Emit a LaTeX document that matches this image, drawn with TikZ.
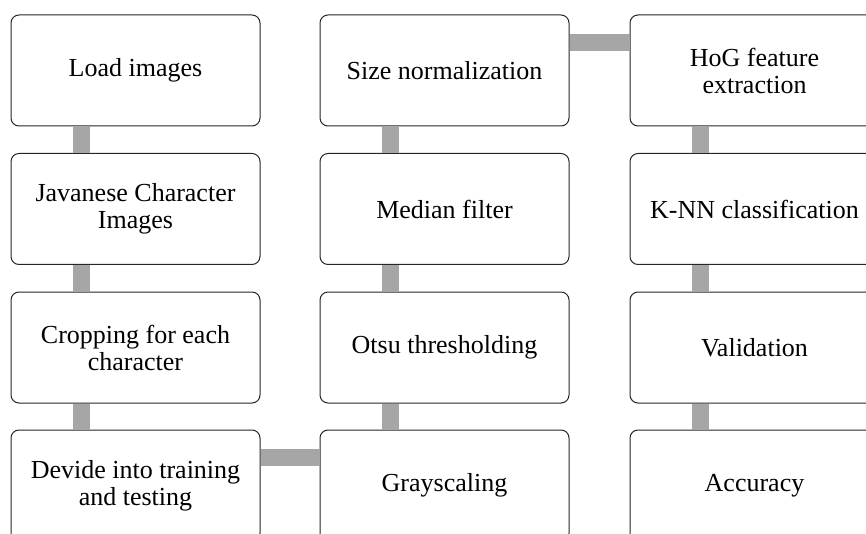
\documentclass[tikz,border=0pt]{standalone}
\usepackage{fontspec}
\setmainfont{Liberation Serif}
\definecolor{conngray}{HTML}{A6A6A6}
\definecolor{boxline}{HTML}{262626}
\begin{document}
\begin{tikzpicture}[x=1pt,y=-1pt,
  stepbox/.style={draw=boxline, line width=1pt, rounded corners=8pt, fill=white,
    minimum width=249pt, minimum height=111pt, inner sep=0pt,
    text width=240pt, align=flush center, font=\fontsize{26}{27}\selectfont},
  conn/.style={draw=conngray, line width=17pt, line cap=butt}]
\useasboundingbox (0,0) rectangle (866,534);
\clip (0,0) rectangle (866,534);
% column 1
\node[stepbox] (a1) at (135.5,70.5) {Load images};
\node[stepbox] (a2) at (135.5,209) {Javanese Character\\Images};
\node[stepbox] (a3) at (135.5,347.5) {Cropping for each\\character};
\node[stepbox] (a4) at (135.5,485.5) {Devide into training\\and testing};
% column 2
\node[stepbox] (b4) at (444.5,485.5) {Grayscaling};
\node[stepbox] (b3) at (444.5,347.5) {Otsu thresholding};
\node[stepbox] (b2) at (444.5,209) {Median filter};
\node[stepbox] (b1) at (444.5,70.5) {Size normalization};
% column 3
\node[stepbox] (c1) at (754.5,70.5) {HoG feature\\extraction};
\node[stepbox] (c2) at (754.5,209) {K-NN classification};
\node[stepbox] (c3) at (754.5,347.5) {Validation};
\node[stepbox] (c4) at (754.5,485.5) {Accuracy};
% connectors
\foreach \u/\v in {a1/a2,a2/a3,a3/a4,b1/b2,b2/b3,b3/b4,c1/c2,c2/c3,c3/c4}{
  \draw[conn] ([xshift=70.5pt]\u.south west) -- ([xshift=70.5pt]\v.north west);
}
\draw[conn] ([yshift=-28pt]a4.north east) -- ([yshift=-28pt]b4.north west);
\draw[conn] ([yshift=-28.5pt]b1.north east) -- ([yshift=-28.5pt]c1.north west);
\end{tikzpicture}
\end{document}
